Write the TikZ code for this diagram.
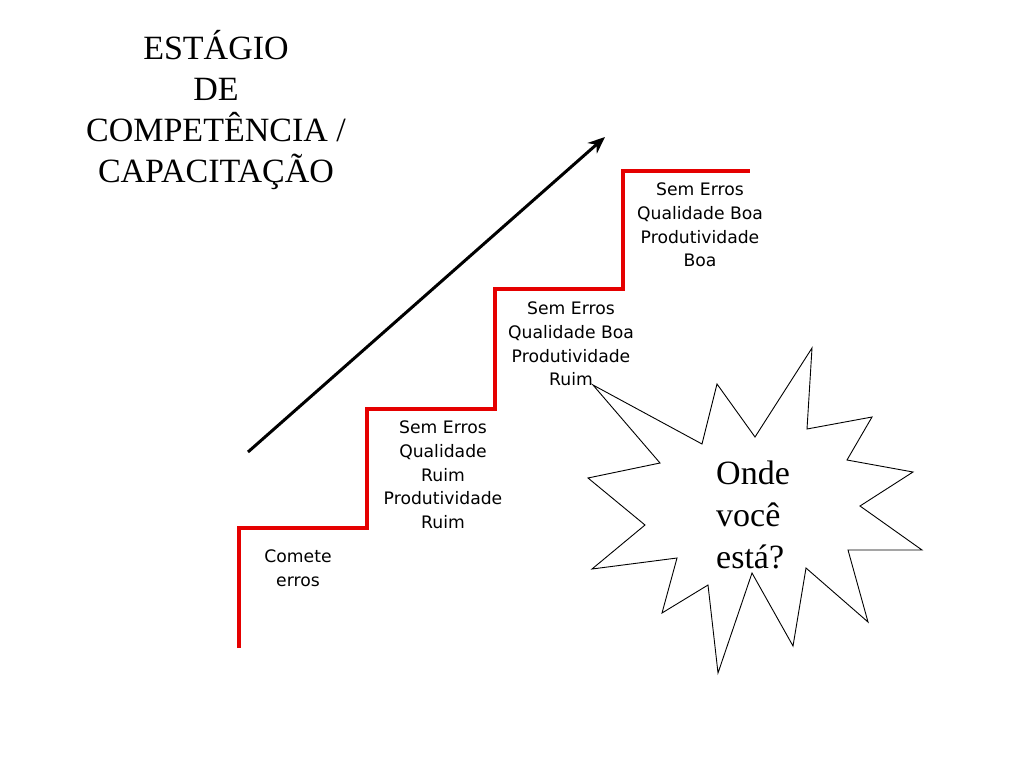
\documentclass[tikz,border=0pt]{standalone}
\usepackage{fontspec}
\setmainfont{Liberation Serif}
\newfontfamily\notefont{DejaVu Sans}
\usetikzlibrary{positioning, arrows.meta}
\tikzset{
  title/.style    = {align=center, inner sep=0pt, font=\fontsize{34}{41}\selectfont},
  stepnote/.style = {align=center, inner sep=0pt, font=\notefont\fontsize{17.2}{23.7}\selectfont},
  stair/.style    = {draw=red!90!black, line width=4pt},
  burst/.style    = {draw, line width=0.9pt, fill=white},
  arr/.style      = {-{Stealth[length=17pt, width=14pt]}, line width=3pt}
}

\begin{document}
\begin{tikzpicture}[x=1pt, y=-1pt]
        \useasboundingbox (0,0) rectangle (1024,768);
        \node[title] (tit) at (216,110) {ESTÁGIO\\DE\\COMPETÊNCIA /\\CAPACITAÇÃO};
        % escada
        \coordinate (s0) at (239,648);
        \coordinate (s1) at (239,528);
        \coordinate (s2) at (367,528);
        \coordinate (s3) at (367,409);
        \coordinate (s4) at (495,409);
        \coordinate (s5) at (495,289);
        \coordinate (s6) at (623,289);
        \coordinate (s7) at (623,171);
        \coordinate (s8) at (750,171);
        \draw[stair] (s0) -- (s1) -- (s2) -- (s3) -- (s4) -- (s5) -- (s6) -- (s7) -- (s8);
        \coordinate (a0) at (248,452);
        \coordinate (a1) at (605,137);
        \draw[arr] (a0) -- (a1);
        \node[stepnote] (n1) at (298,568) {Comete\\erros};
        \node[stepnote] (n2) at (443,475) {Sem Erros\\Qualidade\\Ruim\\Produtividade\\Ruim};
        \node[stepnote] (n3) at (571,344) {Sem Erros\\Qualidade Boa\\Produtividade\\Ruim};
        \node[stepnote] (n4) at (700,225) {Sem Erros\\Qualidade Boa\\Produtividade\\Boa};
        % estrela
        \draw[burst] (593,385) -- (702,444) -- (717,384) -- (755,437) -- (812,348)
          -- (807,429) -- (872,417) -- (847,460) -- (913,472) -- (860,506)
          -- (922,550) -- (848,550) -- (868,622) -- (806,568) -- (793,646)
          -- (752,573) -- (718,673) -- (708,585) -- (662,613) -- (677,558)
          -- (592,569) -- (645,525) -- (588,478) -- (660,463) -- cycle;
        \node[align=left, inner sep=0pt, anchor=west, font=\fontsize{34}{42}\selectfont] (q) at (716,515) {Onde\\você\\está?};
      \end{tikzpicture}
\end{document}
